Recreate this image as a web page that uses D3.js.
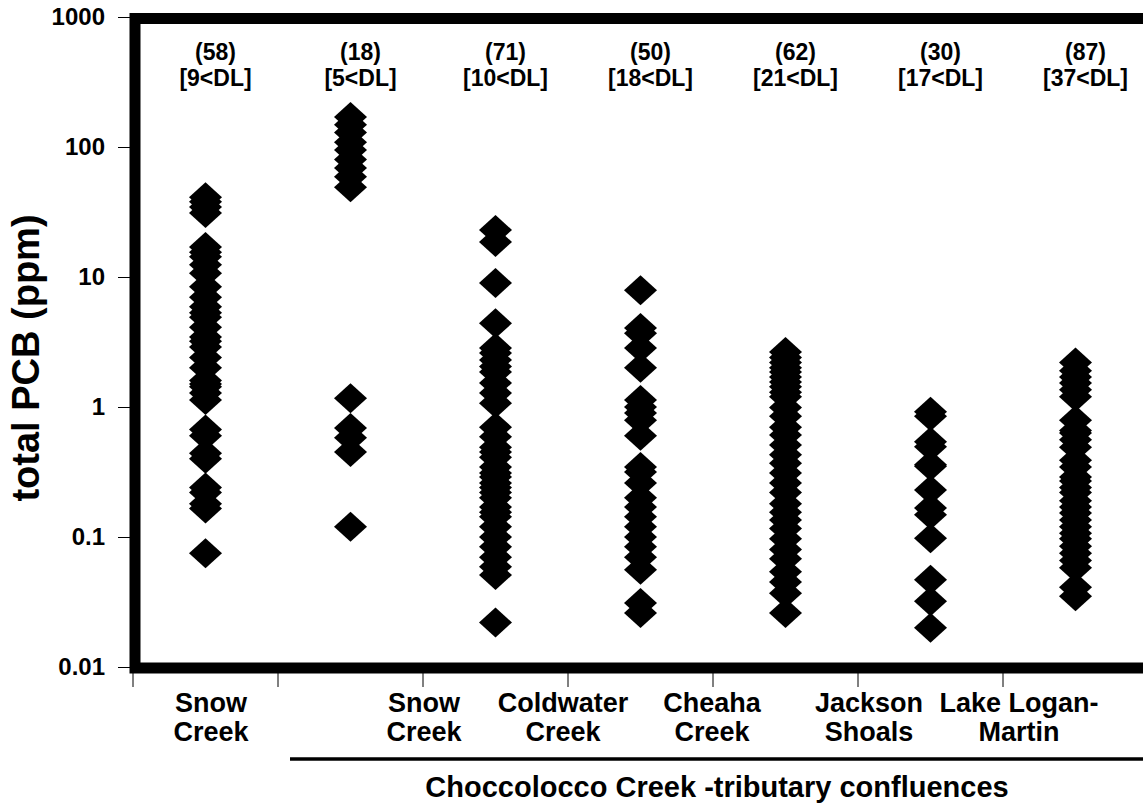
<!DOCTYPE html>
<html>
<head>
<meta charset="utf-8">
<script src="https://cdn.jsdelivr.net/npm/d3@7"></script>
<style>
  body { margin: 0; background: #fff; }
  text { font-family: "Liberation Sans", Arial, sans-serif; font-weight: bold; fill: #000; }
</style>
</head>
<body>
<div id="chart"></div>
<script>
// sites, left to right
var categories = ["snow", "ccSnow", "ccColdwater", "ccCheaha", "ccJackson", "ccLogan", "ccLower"];

// total PCB (ppm)
var snowCreek = [41, 38, 34.5, 31, 17, 15.5, 14.3, 12.4, 10.7, 8.4, 7.0, 5.9, 5.3, 4.9, 4.1, 3.45,
  3.2, 2.9, 2.4, 2.0, 1.6, 1.5, 1.43, 1.28, 1.13, 0.67, 0.6, 0.44, 0.40, 0.24, 0.22, 0.18, 0.166, 0.075];
var ccSnow = [170, 148, 129, 109, 95, 80, 69, 59, 49, 1.17, 0.69, 0.58, 0.45, 0.12];
var ccColdwater = [23, 18.6, 9.0, 4.4, 2.84, 2.6, 2.3, 2.05, 1.86, 1.53, 1.28, 1.07, 0.70, 0.59, 0.49,
  0.45, 0.41, 0.345, 0.31, 0.29, 0.26, 0.24, 0.22, 0.20, 0.17, 0.155, 0.143, 0.12, 0.1, 0.084, 0.07,
  0.059, 0.051, 0.022];
var ccCheaha = [7.9, 4.05, 3.7, 2.84, 2.0, 1.13, 1.0, 0.9, 0.79, 0.6, 0.345, 0.316, 0.26, 0.2, 0.17,
  0.143, 0.12, 0.1, 0.084, 0.07, 0.056, 0.031, 0.026];
var ccJackson = [2.65, 2.4, 2.2, 2.0, 1.86, 1.7, 1.56, 1.43, 1.3, 1.2, 0.99, 0.85, 0.70, 0.61, 0.51,
  0.43, 0.37, 0.31, 0.26, 0.22, 0.18, 0.155, 0.135, 0.116, 0.097, 0.08, 0.068, 0.054, 0.045, 0.037, 0.026];
var ccLogan = [0.92, 0.85, 0.54, 0.495, 0.36, 0.35, 0.23, 0.167, 0.148, 0.098, 0.047, 0.032, 0.020];
var ccLower = [2.2, 1.9, 1.7, 1.53, 1.36, 1.2, 0.79, 0.66, 0.63, 0.56, 0.49, 0.39, 0.345, 0.29, 0.27,
  0.24, 0.22, 0.19, 0.17, 0.153, 0.135, 0.12, 0.107, 0.097, 0.085, 0.075, 0.066, 0.058, 0.041, 0.035];
var seriesValues = [snowCreek, ccSnow, ccColdwater, ccCheaha, ccJackson, ccLogan, ccLower];

// (n) and [k<DL] over each column
var sampleCounts = [58, 18, 71, 50, 62, 30, 87];
var belowDL = [9, 5, 10, 18, 21, 17, 37];

var yTicks = [0.01, 0.1, 1, 10, 100, 1000];
var siteLabels = [["Snow", "Creek"], ["Snow", "Creek"], ["Coldwater", "Creek"], ["Cheaha", "Creek"],
  ["Jackson", "Shoals"], ["Lake Logan-", "Martin"]];
var groupTitle = "Choccolocco Creek -tributary confluences";
var yTitle = "total PCB (ppm)";

// layout
var width = 1143, height = 803;
var labelX = [211, 424, 563, 712, 869, 1019];

var svg = d3.select("#chart").append("svg")
    .attr("width", width)
    .attr("height", height);

svg.append("rect").attr("width", width).attr("height", height).attr("fill", "#fff");

var x = d3.scaleBand().domain(categories).range([133, 1148]);
var y = d3.scaleLog().domain([0.01, 1000]).range([667, 17]);

var points = [];
seriesValues.forEach(function(vals, i) {
  vals.forEach(function(v) { points.push({cat: categories[i], value: v}); });
});

// flat diamond, a little wider than tall
var diamond = {
  draw: function(ctx, size) {
    var h = Math.sqrt(size) / 2;
    ctx.moveTo(0, -h);
    ctx.lineTo(h * 1.1, 0);
    ctx.lineTo(0, h);
    ctx.lineTo(-h * 1.1, 0);
    ctx.closePath();
  }
};

svg.append("g").selectAll("path")
    .data(points)
    .enter().append("path")
      .attr("d", d3.symbol().type(diamond).size(900))
      .attr("transform", function(d) { return "translate(" + (x(d.cat) + x.bandwidth() / 2) + "," + y(d.value) + ")"; })
      .attr("fill", "#000");

// heavy frame around the plot
svg.append("rect")
    .attr("x", 135)
    .attr("y", 18.5)
    .attr("width", 1020)
    .attr("height", 649.5)
    .attr("fill", "none")
    .attr("stroke", "#000")
    .attr("stroke-width", 11);

// y axis
var yAxis = svg.append("g")
    .attr("transform", "translate(130,0)")
    .call(d3.axisLeft(y).tickValues(yTicks).tickSize(12).tickPadding(13)
      .tickFormat(function(d) { return d.toString(); }));
yAxis.select(".domain").remove();
yAxis.selectAll("text").style("font-size", "24px");
yAxis.selectAll("line").attr("stroke", "#000");

// x ticks between categories
var xTicks = categories.map(function(c) { return x(c); }).concat([x.range()[1]]);
svg.append("g").selectAll("line")
    .data(xTicks)
    .enter().append("line")
      .attr("x1", function(d) { return d; })
      .attr("x2", function(d) { return d; })
      .attr("y1", 668)
      .attr("y2", 687)
      .attr("stroke", "#000");

// counts above each column
var counts = svg.append("g").selectAll("text")
    .data(categories)
    .enter().append("text")
      .attr("text-anchor", "middle")
      .style("font-size", "23px");
counts.append("tspan")
    .attr("x", function(d) { return x(d) + x.bandwidth() / 2 + 10; })
    .attr("y", 60)
    .text(function(d, i) { return "(" + sampleCounts[i] + ")"; });
counts.append("tspan")
    .attr("x", function(d) { return x(d) + x.bandwidth() / 2 + 10; })
    .attr("y", 86)
    .text(function(d, i) { return "[" + belowDL[i] + "<DL]"; });

// site labels
var labels = svg.append("g").selectAll("text")
    .data(siteLabels)
    .enter().append("text")
      .attr("text-anchor", "middle")
      .style("font-size", "27px");
labels.selectAll("tspan")
    .data(function(d, i) { return d.map(function(t) { return {t: t, i: i}; }); })
    .enter().append("tspan")
      .attr("x", function(d) { return labelX[d.i]; })
      .attr("y", function(d, j) { return 712 + j * 29; })
      .text(function(d) { return d.t; });

svg.append("line")
    .attr("x1", 290).attr("x2", width)
    .attr("y1", 759).attr("y2", 759)
    .attr("stroke", "#000")
    .attr("stroke-width", 3.3);

svg.append("text")
    .attr("x", 717)
    .attr("y", 797)
    .attr("text-anchor", "middle")
    .style("font-size", "29px")
    .text(groupTitle);

svg.append("text")
    .attr("transform", "translate(39,358) rotate(-90)")
    .attr("text-anchor", "middle")
    .style("font-size", "38px")
    .text(yTitle);
</script>
</body>
</html>
